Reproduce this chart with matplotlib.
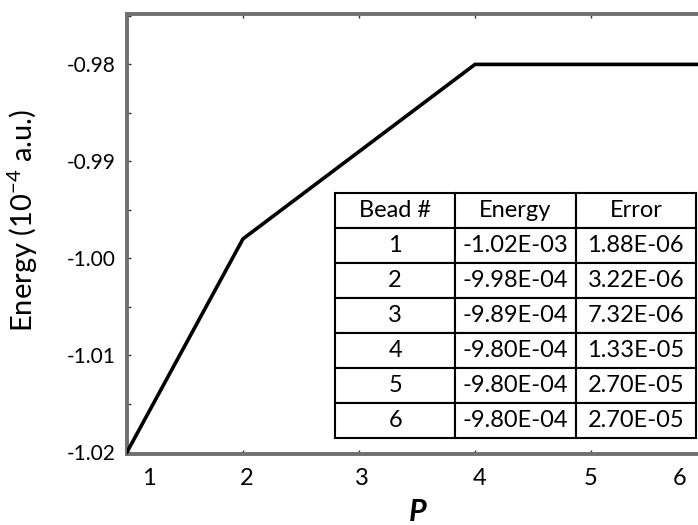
import numpy as np
import matplotlib.pyplot as plt
from matplotlib.ticker import MultipleLocator, FormatStrFormatter
from matplotlib.transforms import ScaledTranslation

plt.rcParams['font.family'] = ['Lato', 'DejaVu Sans']
plt.rcParams['axes.unicode_minus'] = False
plt.rcParams['mathtext.fontset'] = 'custom'
plt.rcParams['mathtext.rm'] = 'Lato'
plt.rcParams['mathtext.it'] = 'Lato:italic'

# beads P and energy (1e-4 a.u.)
beads = [1, 2, 3, 4, 5, 6]
energy = [-1.020, -0.998, -0.989, -0.980, -0.980, -0.980]

# table contents
col_labels = ['Bead #', 'Energy', 'Error']
energy_txt = ['-1.02E-03', '-9.98E-04', '-9.89E-04', '-9.80E-04', '-9.80E-04', '-9.80E-04']
error_txt = ['1.88E-06', '3.22E-06', '7.32E-06', '1.33E-05', '2.70E-05', '2.70E-05']

fig = plt.figure(figsize=(6.98, 5.25), dpi=100)
ax = fig.add_axes([127/698, 71/525, 580/698, 440/525])

ax.plot(beads, energy, color='black', lw=2.6, solid_joinstyle='miter', zorder=3)

ax.set_xlim(1, 6)
ax.set_ylim(-1.0202, -0.9748)
ax.set_xticks(beads)
ax.yaxis.set_major_locator(MultipleLocator(0.01))
ax.yaxis.set_minor_locator(MultipleLocator(0.005))
ax.yaxis.set_major_formatter(FormatStrFormatter('%.2f'))

for side in ['left', 'top', 'bottom']:
    ax.spines[side].set_color('#707070')
    ax.spines[side].set_linewidth(2.8)
ax.spines['right'].set_visible(False)

ax.tick_params(axis='both', which='both', direction='in', length=3, width=1,
               color='#333333')
ax.tick_params(axis='x', top=True, pad=10, labelsize=17)
ax.tick_params(axis='y', pad=8, labelsize=15)

# nudge outer x labels so they stay inside the frame
shifts = [22, 4, 3, 5, 0, -27]
for lab, dx in zip(ax.get_xticklabels(), shifts):
    lab.set_transform(lab.get_transform() + ScaledTranslation(dx/100, 0, fig.dpi_scale_trans))

ax.set_ylabel('Energy (10$^{\\mathrm{-4}}$ a.u.)', fontsize=21)
ax.yaxis.set_label_coords(-0.15, 0.532)
ax.set_xlabel('P', fontsize=22, style='italic', fontweight='bold')
ax.xaxis.set_label_coords(0.502, -0.1)

rows = [[str(b), e, r] for b, e, r in zip(beads, energy_txt, error_txt)]
tbl = ax.table(cellText=rows, colLabels=col_labels, cellLoc='center',
               bbox=[0.3586, 0.036, 0.6224, 0.557], zorder=5)
tbl.auto_set_font_size(False)
tbl.set_fontsize(17)
for (r, c), cell in tbl.get_celld().items():
    cell.set_edgecolor('black')
    cell.set_linewidth(1.5)
    cell.set_facecolor('white')

fig.savefig('out.png', dpi=100)
